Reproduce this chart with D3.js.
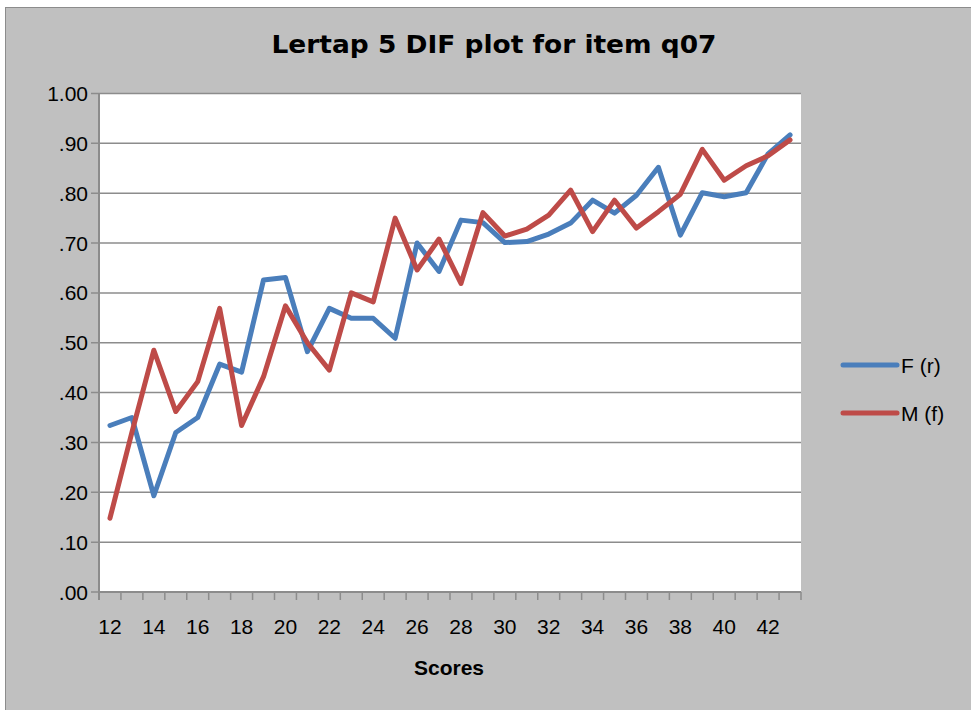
<!DOCTYPE html>
<html>
<head>
<meta charset="utf-8">
<script src="https://cdn.jsdelivr.net/npm/d3@7"></script>
<style>
  body { margin: 0; background: #fff; }
  svg { display: block; }
</style>
</head>
<body>
<svg width="971" height="710"></svg>
<script>
var scores = d3.range(12, 44);
var femaleR = [0.334, 0.350, 0.193, 0.320, 0.350, 0.457, 0.441, 0.626, 0.631, 0.482,
    0.569, 0.549, 0.549, 0.509, 0.700, 0.643, 0.746, 0.741, 0.701, 0.703,
    0.718, 0.740, 0.786, 0.760, 0.796, 0.852, 0.716, 0.801, 0.793, 0.801,
    0.879, 0.917];
var maleF = [0.148, 0.320, 0.485, 0.362, 0.422, 0.569, 0.334, 0.432, 0.574, 0.500,
    0.445, 0.600, 0.582, 0.750, 0.646, 0.708, 0.619, 0.761, 0.714, 0.728,
    0.756, 0.806, 0.723, 0.786, 0.730, 0.763, 0.798, 0.888, 0.826, 0.855,
    0.875, 0.907];
var seriesNames = ['F (r)', 'M (f)'];
var seriesColors = ['#4a7ebb', '#be4b48'];
var yTicks = [0, 0.1, 0.2, 0.3, 0.4, 0.5, 0.6, 0.7, 0.8, 0.9, 1.0];

var svg = d3.select('svg');
var margin = {top: 93.5, left: 99, right: 801, bottom: 592};
var labelFont = 'Liberation Sans, Arial, sans-serif';

// chart area background with border
svg.append('rect')
    .attr('x', 5.5).attr('y', 7.5)
    .attr('width', 980).attr('height', 720)
    .attr('fill', '#c0c0c0')
    .attr('stroke', '#8c8c8c')
    .attr('stroke-width', 1);

svg.append('rect')
    .attr('x', margin.left).attr('y', margin.top)
    .attr('width', margin.right - margin.left)
    .attr('height', margin.bottom - margin.top)
    .attr('fill', '#fff');

var x = d3.scaleBand()
    .domain(scores)
    .range([margin.left, margin.right]);

var y = d3.scaleLinear()
    .domain([0, 1])
    .range([margin.bottom, margin.top]);

// gridlines
svg.append('g')
    .selectAll('line')
    .data(yTicks)
    .enter()
    .append('line')
    .attr('x1', margin.left - 8)
    .attr('x2', margin.right)
    .attr('y1', function (d) { return y(d); })
    .attr('y2', function (d) { return y(d); })
    .attr('stroke', '#8c8c8c')
    .attr('stroke-width', 1.5);

// y labels
svg.append('g')
    .selectAll('text')
    .data(yTicks)
    .enter()
    .append('text')
    .attr('x', 88)
    .attr('y', function (d) { return y(d) + 7.5; })
    .attr('text-anchor', 'end')
    .style('font-family', labelFont)
    .style('font-size', '21px')
    .attr('fill', '#000')
    .text(function (d) { return d === 1 ? '1.00' : d3.format('.2f')(d).replace(/^0/, ''); });

// y axis line
svg.append('line')
    .attr('x1', margin.left).attr('x2', margin.left)
    .attr('y1', margin.top).attr('y2', margin.bottom + 8)
    .attr('stroke', '#8c8c8c').attr('stroke-width', 2);

// x axis
var xAxis = svg.append('g')
    .attr('transform', 'translate(0,' + margin.bottom + ')');

xAxis.append('line')
    .attr('x1', margin.left).attr('x2', margin.right)
    .attr('stroke', '#8c8c8c').attr('stroke-width', 2);

xAxis.selectAll('line.tick')
    .data(scores.concat([44]))
    .enter()
    .append('line')
    .attr('class', 'tick')
    .attr('x1', function (d, i) { return margin.left + i * x.bandwidth(); })
    .attr('x2', function (d, i) { return margin.left + i * x.bandwidth(); })
    .attr('y1', 0).attr('y2', 8)
    .attr('stroke', '#8c8c8c').attr('stroke-width', 1.5);

xAxis.selectAll('text')
    .data(scores.filter(function (d) { return d % 2 === 0; }))
    .enter()
    .append('text')
    .attr('x', function (d) { return x(d) + x.bandwidth() / 2; })
    .attr('y', 42)
    .attr('text-anchor', 'middle')
    .style('font-family', labelFont)
    .style('font-size', '21px')
    .text(function (d) { return d; });

// lines
var seriesData = [femaleR, maleF];
var line = d3.line()
    .x(function (d, i) { return x(scores[i]) + x.bandwidth() / 2; })
    .y(function (d) { return y(d); });

svg.append('g')
    .selectAll('path')
    .data(seriesData)
    .enter()
    .append('path')
    .attr('d', line)
    .attr('fill', 'none')
    .attr('stroke', function (d, i) { return seriesColors[i]; })
    .attr('stroke-width', 5)
    .attr('stroke-linejoin', 'round')
    .attr('stroke-linecap', 'round');

// title
svg.append('text')
    .attr('x', 494)
    .attr('y', 53)
    .attr('text-anchor', 'middle')
    .attr('textLength', 445)
    .attr('lengthAdjust', 'spacingAndGlyphs')
    .style('font-family', 'DejaVu Sans, Verdana, sans-serif')
    .style('font-weight', 'bold')
    .style('font-size', '24.5px')
    .text('Lertap 5 DIF plot for item q07');

svg.append('text')
    .attr('x', 449)
    .attr('y', 675)
    .attr('text-anchor', 'middle')
    .style('font-family', labelFont)
    .style('font-weight', 'bold')
    .style('font-size', '21px')
    .text('Scores');

// legend
var legend = svg.append('g')
    .selectAll('g')
    .data(seriesNames)
    .enter()
    .append('g')
    .attr('transform', function (d, i) { return 'translate(843,' + (365 + i * 48) + ')'; });

legend.append('line')
    .attr('x1', 0).attr('x2', 54)
    .attr('stroke', function (d, i) { return seriesColors[i]; })
    .attr('stroke-width', 5)
    .attr('stroke-linecap', 'round');

legend.append('text')
    .attr('x', 58)
    .attr('y', 8)
    .style('font-family', labelFont)
    .style('font-size', '21px')
    .text(function (d) { return d; });
</script>
</body>
</html>
